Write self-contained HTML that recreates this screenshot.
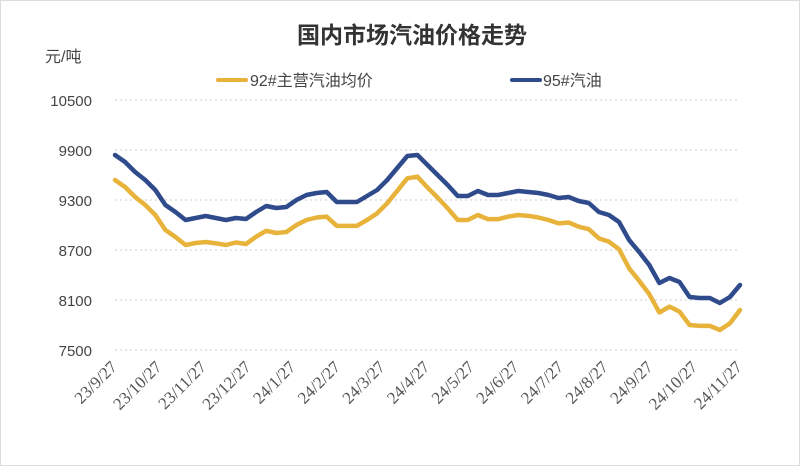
<!DOCTYPE html>
<html><head><meta charset="utf-8"><style>
body{margin:0;background:#fff;}
svg{display:block;font-family:"Liberation Sans","Noto Sans CJK SC",sans-serif;}
</style></head><body>
<svg id="chart" width="800" height="466">
<rect x="0.5" y="0.5" width="799" height="465" fill="#fff" stroke="#ddd"/>
<text x="412" y="43" text-anchor="middle" font-size="23" font-weight="bold" fill="#333">国内市场汽油价格走势</text>
<text x="45" y="62" font-size="16" fill="#444">元/吨</text>
<g>
<line x1="218" y1="80" x2="246" y2="80" stroke="#E8B33A" stroke-width="4" stroke-linecap="round"/>
<text x="250" y="86" font-size="16" fill="#444">92#主营汽油均价</text>
<line x1="512" y1="80" x2="540" y2="80" stroke="#2F4B8C" stroke-width="4" stroke-linecap="round"/>
<text x="543" y="86" font-size="16" fill="#444">95#汽油</text>
</g>
<g id="grid"></g><g id="yt"></g><g id="xt"></g><g id="lines"></g>
</svg>
<script>
const yTicks=[7500,8100,8700,9300,9900,10500];
const xLabels=["23/9/27","23/10/27","23/11/27","23/12/27","24/1/27","24/2/27","24/3/27","24/4/27","24/5/27","24/6/27","24/7/27","24/8/27","24/9/27","24/10/27","24/11/27"];
const blue=[9840,9756,9636,9540,9420,9240,9156,9060,9084,9108,9084,9060,9084,9072,9156,9228,9204,9216,9300,9360,9384,9396,9276,9276,9276,9348,9420,9540,9684,9828,9840,9720,9600,9480,9348,9348,9408,9360,9360,9384,9408,9396,9384,9360,9324,9336,9288,9264,9156,9120,9036,8820,8676,8520,8304,8364,8316,8136,8124,8124,8064,8136,8280];
const yellow=[9540,9456,9336,9240,9120,8940,8856,8760,8784,8796,8780,8760,8790,8772,8860,8930,8904,8916,9000,9060,9090,9100,8990,8990,8990,9060,9140,9260,9410,9560,9580,9450,9330,9200,9060,9060,9120,9070,9070,9100,9120,9110,9090,9060,9020,9030,8980,8950,8840,8800,8710,8480,8330,8170,7950,8020,7960,7800,7790,7790,7740,7820,7980];
const X0=115,X1=740,Y0=350,Y1=100;
const ys=v=>Y0-(v-7500)/(10500-7500)*(Y0-Y1);
const xs=i=>X0+i*(X1-X0)/(blue.length-1);
const xl=i=>X0+i*(X1-X0)/(xLabels.length-1);
const NS="http://www.w3.org/2000/svg";
const mk=(t,a,p)=>{const e=document.createElementNS(NS,t);for(const k in a)e.setAttribute(k,a[k]);p.appendChild(e);return e;};
const g=document.getElementById('grid'),yt=document.getElementById('yt'),xt=document.getElementById('xt'),L=document.getElementById('lines');
yTicks.forEach(v=>{
 const l=mk('line',{x1:X0,x2:X1,y1:ys(v),y2:ys(v),stroke:'#ccc','stroke-dasharray':'2,3'},g);
 
 
 const t=mk('text',{x:92,y:ys(v)+6,'text-anchor':'end','font-size':15,fill:'#444'},yt);
 t.textContent=v;
 
 
});
xLabels.forEach((s,i)=>{
 const x=xl(i)+3,y=368;
 const t=mk('text',{x:x,y:y,'text-anchor':'end','font-size':17,fill:'#555','font-family':'"Liberation Serif",serif',transform:`rotate(-45 ${x} ${y})`},xt);
 t.textContent=s;
 
 
});
function line(d,c,n){
 const p=mk('polyline',{points:d.map((v,i)=>xs(i)+','+ys(v)).join(' '),fill:'none',stroke:c,'stroke-width':4.5,'stroke-linejoin':'round','stroke-linecap':'round'},L);
 
 
}
line(yellow,'#E8B33A','series-92-line');
line(blue,'#2F4B8C','series-95-line');
</script>
</body></html>
